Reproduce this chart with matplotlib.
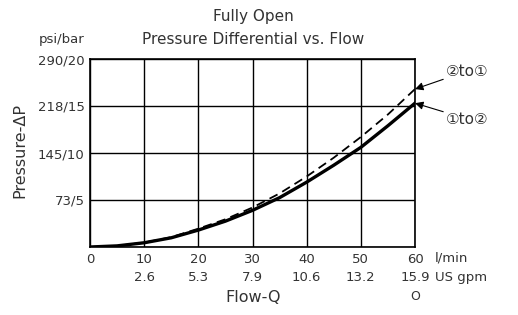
import matplotlib
matplotlib.use("Agg")
import matplotlib.pyplot as plt

flow_lpm = [0, 5, 10, 15, 20, 25, 30, 35, 40, 45, 50, 55, 60]
dp_1to2 = [0, 0.12, 0.45, 0.98, 1.8, 2.75, 3.9, 5.25, 6.9, 8.7, 10.6, 12.9, 15.3]
dp_2to1 = [0, 0.12, 0.47, 1.05, 1.95, 2.95, 4.2, 5.7, 7.5, 9.5, 11.7, 14.1, 16.8]

x_ticks = [0, 10, 20, 30, 40, 50, 60]
x_labels = ["0\n", "10\n2.6", "20\n5.3", "30\n7.9", "40\n10.6", "50\n13.2", "60\n15.9"]
y_ticks = [0, 5, 10, 15, 20]
y_labels = ["", "73/5", "145/10", "218/15", "290/20"]

plt.rcParams['font.family'] = ['DejaVu Sans', 'Noto Sans CJK SC']
txt = '#333333'

fig = plt.figure(figsize=(5.18, 3.15), dpi=100)
ax = fig.add_axes([90/518, 1-247/315, 325/518, 188/315])

ax.plot(flow_lpm, dp_2to1, color='black', lw=1.3, ls=(0, (5, 3)))
ax.plot(flow_lpm, dp_1to2, color='black', lw=2.4)

ax.set_xlim(0, 60)
ax.set_ylim(0, 20)
ax.set_xticks(x_ticks)
ax.set_xticklabels(x_labels, fontsize=9.5, color=txt, linespacing=1.55)
ax.set_yticks(y_ticks)
ax.set_yticklabels(y_labels, fontsize=9.5, color=txt)
ax.tick_params(length=0, pad=4)
ax.grid(True, color='black', lw=1)
for s in ax.spines.values():
    s.set_color('black')
    s.set_linewidth(1.2)

fig.text(253/518, 1-17/315, "Fully Open", ha='center', va='center', fontsize=11, color=txt)
fig.text(253/518, 1-40/315, "Pressure Differential vs. Flow", ha='center', va='center', fontsize=11, color=txt)
fig.text(84/518, 1-40/315, "psi/bar", ha='right', va='center', fontsize=9.5, color=txt)
fig.text(20/518, 1-150/315, "Pressure-ΔP", ha='center', va='center', rotation=90, fontsize=11.5, color=txt)
fig.text(435/518, 1-258/315, "l/min", ha='left', va='center', fontsize=9.5, color=txt)
fig.text(435/518, 1-277/315, "US gpm", ha='left', va='center', fontsize=9.5, color=txt)
fig.text(253/518, 1-297/315, "Flow-Q", ha='center', va='center', fontsize=11.5, color=txt)
fig.text(415/518, 1-297/315, "O", ha='center', va='center', fontsize=9, color=txt)

arrow = dict(arrowstyle='-|>', color='black', lw=0.8, mutation_scale=12, shrinkA=0, shrinkB=0)
ax.annotate("②to①", xy=(60, dp_2to1[-1]), xytext=(446, 315-71), textcoords='figure pixels',
            ha='left', va='center', fontsize=11, color=txt, arrowprops=arrow)
ax.annotate("①to②", xy=(60, dp_1to2[-1]), xytext=(446, 315-119), textcoords='figure pixels',
            ha='left', va='center', fontsize=11, color=txt, arrowprops=arrow)

fig.savefig("out.png", dpi=100)
